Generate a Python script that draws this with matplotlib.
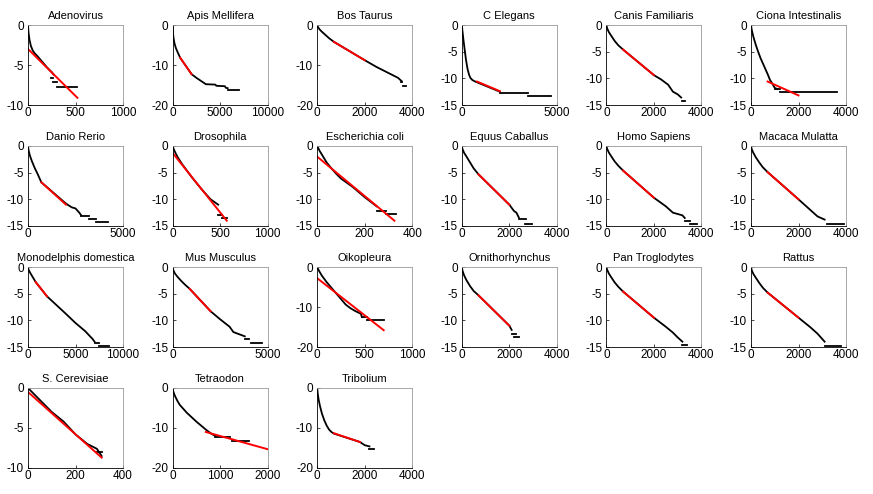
import matplotlib
matplotlib.use("Agg")
import matplotlib.pyplot as plt

plt.rcParams["font.family"] = ["Liberation Sans", "DejaVu Sans"]
plt.rcParams["font.size"] = 8
plt.rcParams["axes.unicode_minus"] = False

# ---- data: curve knots, tail steps, red fit ----
names = ["Adenovirus", "Apis Mellifera", "Bos Taurus", "C Elegans",
         "Canis Familiaris", "Ciona Intestinalis",
         "Danio Rerio", "Drosophila", "Escherichia coli", "Equus Caballus",
         "Homo Sapiens", "Macaca Mulatta",
         "Monodelphis domestica", "Mus Musculus", "Oikopleura",
         "Ornithorhynchus", "Pan Troglodytes", "Rattus",
         "S. Cerevisiae", "Tetraodon", "Tribolium"]

x_max = [1000, 10000, 4000, 5000, 4000, 4000,
         5000, 1000, 400, 4000, 4000, 4000,
         10000, 5000, 1000, 4000, 4000, 4000,
         400, 2000, 4000]
y_min = [-10, -20, -20, -15, -15, -15,
         -15, -15, -15, -15, -15, -15,
         -15, -15, -20, -15, -15, -15,
         -10, -20, -20]

curve_x = [
    [0, 5, 15, 30, 50, 75, 100, 150, 200, 250, 270],
    [0, 30, 100, 200, 350, 550, 800, 2000, 2500, 3000, 3500, 4500, 4600, 5500, 5600, 5800],
    [0, 30, 100, 200, 350, 500, 700, 2000, 2500, 3000, 3400, 3550],
    [0, 30, 80, 150, 220, 300, 380, 450, 550, 700, 2000],
    [0, 30, 100, 200, 350, 500, 700, 2000, 2300, 2600, 2800, 3000, 3150],
    [0, 30, 100, 200, 300, 400, 500, 600, 700, 800, 900, 1000, 1100],
    [0, 30, 100, 200, 350, 500, 700, 2000, 2300, 2500, 2700, 2800],
    [0, 10, 25, 50, 100, 200, 300, 400, 480],
    [0, 10, 25, 40, 60, 80, 100, 150, 200, 250],
    [0, 30, 100, 200, 350, 500, 700, 2000, 2200, 2300, 2400],
    [0, 30, 100, 200, 350, 500, 700, 2000, 2500, 2800, 3200, 3300],
    [0, 30, 100, 200, 350, 500, 700, 2000, 2500, 2800, 3100],
    [0, 60, 200, 400, 600, 800, 2000, 4000, 5000, 6000, 6800, 7000],
    [0, 40, 120, 250, 450, 650, 900, 2000, 2500, 3000, 3200, 3500, 3800],
    [0, 20, 50, 100, 150, 200, 250, 300, 350, 400, 460, 470],
    [0, 30, 100, 200, 350, 500, 700, 2000, 2100],
    [0, 30, 100, 200, 350, 500, 700, 2000, 2500, 2800, 3000, 3200],
    [0, 30, 100, 200, 350, 500, 700, 2000, 2500, 2800, 3000, 3100],
    [0, 10, 50, 100, 150, 200, 250, 290, 310],
    [0, 15, 50, 100, 150, 300, 500, 700, 800, 900],
    [0, 20, 60, 120, 200, 300, 400, 500, 600, 700, 1800, 2000, 2200],
]
curve_y = [
    [0, -0.9, -1.8, -2.6, -3.2, -3.6, -3.9, -4.6, -5.3, -5.9, -6.2],
    [0, -1.8, -3.3, -4.6, -5.8, -6.9, -8.2, -12.3, -13.2, -14, -14.8, -14.9, -15.2, -15.3, -15.7, -15.8],
    [0, -0.5, -1.1, -1.7, -2.5, -3.3, -4.2, -8.8, -10.5, -12, -13.2, -14],
    [0, -1, -2.6, -4.6, -6.5, -8.2, -9.3, -9.9, -10.3, -10.6, -12.5],
    [0, -0.6, -1.3, -2.0, -3.0, -3.8, -4.6, -9.4, -10.2, -11.2, -12.5, -13, -13.6],
    [0, -0.9, -2.2, -3.7, -5.0, -6.2, -7.2, -8.2, -9.2, -10.3, -11, -11.8, -12],
    [0, -0.8, -1.8, -2.8, -4.1, -5.2, -6.8, -10.8, -11.5, -11.7, -12.5, -13],
    [0, -0.5, -1.1, -2.0, -3.4, -5.8, -8, -10, -11],
    [0, -0.9, -2.0, -3.1, -4.2, -5.2, -6.1, -7.7, -9.6, -11.3],
    [0, -0.6, -1.3, -2.0, -3.1, -4.2, -5.3, -11, -12.2, -12.5, -13.4],
    [0, -0.5, -1.2, -1.9, -2.9, -3.7, -4.6, -9.7, -11.3, -12.5, -13, -13.5],
    [0, -0.6, -1.3, -2.1, -3.1, -4.0, -4.9, -10, -12, -13.2, -13.8],
    [0, -0.5, -1.0, -1.6, -2.2, -2.8, -5.5, -8.8, -10.5, -12, -13.5, -14],
    [0, -0.6, -1.2, -1.8, -2.6, -3.3, -4.1, -8.3, -9.8, -11.2, -12.2, -12.6, -13],
    [0, -1.0, -2.2, -3.8, -5.2, -6.6, -8.0, -9.4, -10.3, -11.0, -11.7, -12.5],
    [0, -0.7, -1.6, -2.5, -3.6, -4.5, -5.3, -11, -11.8],
    [0, -0.5, -1.2, -1.9, -2.9, -3.7, -4.6, -9.5, -11.2, -12.3, -13.2, -14],
    [0, -0.6, -1.3, -2.0, -3.0, -3.9, -4.8, -9.5, -11.3, -12.5, -13.5, -14],
    [0, -0.3, -1.5, -3, -4.2, -5.8, -7, -7.6, -8.5],
    [0, -0.9, -2.0, -3.2, -4.2, -6.2, -8.4, -10.4, -11.3, -12],
    [0, -1.3, -2.9, -4.6, -6.4, -8.1, -9.4, -10.4, -11.0, -11.4, -13.5, -14.3, -14.6],
]

# tail steps: (x_start, x_end, y)
steps = [
    [(240, 265, -6.6), (260, 300, -7.1), (300, 520, -7.7)],
    [(5800, 7000, -16.2)],
    [(3520, 3580, -14.2), (3600, 3750, -15.2)],
    [(2000, 3500, -12.8), (3500, 4700, -13.4)],
    [(3200, 3300, -14.2)],
    [(1000, 1200, -12.0), (1200, 3600, -12.5)],
    [(2800, 3200, -13.2), (3200, 3600, -13.6), (3600, 4200, -14.2)],
    [(480, 520, -13.0), (520, 570, -13.5)],
    [(250, 290, -12.2), (290, 330, -12.8)],
    [(2400, 2700, -13.6), (2650, 2950, -14.6)],
    [(3300, 3500, -14.0), (3500, 3800, -14.6)],
    [(3200, 3900, -14.6)],
    [(7000, 7500, -14.2), (7500, 8500, -14.9)],
    [(3800, 4000, -13.5), (4100, 4700, -14.2)],
    [(470, 520, -12.5), (520, 700, -13.3)],
    [(2100, 2300, -12.5), (2200, 2400, -13.2)],
    [(3200, 3400, -14.6)],
    [(3100, 3800, -14.8)],
    [(290, 310, -8.0)],
    [(900, 1200, -12.2), (1250, 1600, -13.3)],
    [(2200, 2400, -15.2)],
]

# red fitted line: (x0, y0, x1, y1)
fits = [
    (0, -3, 520, -9.1), (800, -8.2, 2000, -12.3), (700, -4.2, 2000, -8.8),
    (800, -10.6, 2000, -12.4), (700, -4.6, 2000, -9.4), (700, -10.6, 2000, -13.2),
    (700, -6.8, 2000, -11.0), (0, -1.3, 570, -14), (0, -2, 325, -14),
    (700, -5.3, 2000, -11), (700, -4.6, 2000, -9.7), (700, -4.9, 2000, -10),
    (800, -2.8, 2000, -5.5), (900, -4.1, 2000, -8.3), (0, -2.8, 700, -15.8),
    (700, -5.3, 2000, -11), (700, -4.6, 2000, -9.5), (700, -4.8, 2000, -9.5),
    (0, -0.5, 310, -8.7), (700, -11, 2000, -15.3), (700, -11.3, 1800, -13.5),
]

x_ticks = {5000: [0, 5000], 400: [0, 200, 400], 1000: [0, 500, 1000],
           2000: [0, 1000, 2000], 4000: [0, 2000, 4000],
           10000: [0, 5000, 10000]}
y_ticks = {-10: [-10, -5, 0], -15: [-15, -10, -5, 0], -20: [-20, -10, 0]}

fig = plt.figure(figsize=(8.73, 4.94), dpi=100)
W, H = 873, 494
for i, name in enumerate(names):
    row, col = divmod(i, 6)
    left = 28 + col * 144.6
    bottom = 105 + row * 121
    ax = fig.add_axes([left / W, 1 - bottom / H, 95 / W, 80 / H])
    ax.plot(curve_x[i], curve_y[i], color="black", lw=1.3)
    for xs, xe, yv in steps[i]:
        ax.plot([xs, xe], [yv, yv], color="black", lw=1.3)
    x0, y0, x1, y1 = fits[i]
    ax.plot([x0, x1], [y0, y1], color="red", lw=1.4)
    ax.set_xlim(0, x_max[i])
    ax.set_ylim(y_min[i], 0)
    ax.set_xticks(x_ticks[x_max[i]])
    ax.set_yticks(y_ticks[y_min[i]])
    ax.tick_params(direction="in", length=2, width=0.5, labelsize=8.5)
    ax.tick_params(axis="y", pad=3)
    ax.tick_params(axis="x", pad=1.5)
    for s in ["top", "right"]:
        ax.spines[s].set_color("#999999")
    for s in ["left", "bottom"]:
        ax.spines[s].set_color("black")
    for s in ax.spines.values():
        s.set_linewidth(0.6)
    ax.set_title(name, fontsize=8, pad=4)

fig.savefig("out.png", dpi=100)
